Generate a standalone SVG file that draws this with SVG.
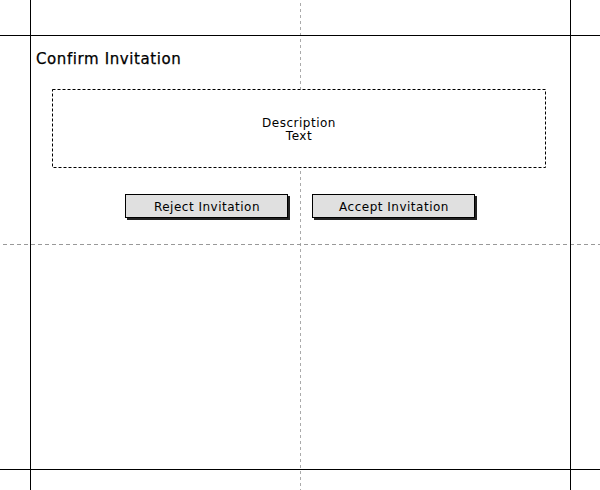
<svg xmlns="http://www.w3.org/2000/svg" width="600" height="490" viewBox="0 0 600 490">
<style>
.frame{stroke:#000;stroke-width:1;fill:none}
.guide-v{stroke:#aaa;stroke-width:1;stroke-dasharray:3,3;fill:none}
.guide-h{stroke:#999;stroke-width:1;stroke-dasharray:4,3;fill:none}
.desc{fill:#fff;stroke:#000;stroke-width:1;stroke-dasharray:3,2}
.btn{fill:#e0e0e0;stroke:#000;stroke-width:1}
.shadow{fill:#222}
.t{font-family:"DejaVu Sans",Verdana,sans-serif;font-size:12px;fill:#000;text-anchor:middle;letter-spacing:0.5px}
.title{font-family:"DejaVu Sans",Verdana,sans-serif;font-size:15px;fill:#000;letter-spacing:0.6px;stroke:#000;stroke-width:0.25}
</style>
<rect width="600" height="490" fill="#fff"/>
<g id="guides">
<line class="guide-v" x1="300.5" y1="3" x2="300.5" y2="490"/>
<line class="guide-h" x1="3" y1="244.5" x2="600" y2="244.5"/>
</g>
<g id="frame">
<line class="frame" x1="30.5" y1="0" x2="30.5" y2="490"/>
<line class="frame" x1="570.5" y1="0" x2="570.5" y2="490"/>
<line class="frame" x1="0" y1="35.5" x2="600" y2="35.5"/>
<line class="frame" x1="0" y1="469.5" x2="600" y2="469.5"/>
</g>
<g id="title">
<text class="title" x="36" y="64">Confirm Invitation</text>
</g>
<g id="description">
<rect class="desc" x="52.5" y="89.5" width="493" height="78"/>
<text class="t" x="299" y="127">Description</text>
<text class="t" x="299" y="140">Text</text>
</g>
<g id="reject">
<rect class="shadow" x="127" y="196" width="163" height="24"/>
<rect class="btn" x="125.5" y="194.5" width="162" height="23"/>
<text class="t" x="207" y="211">Reject Invitation</text>
</g>
<g id="accept">
<rect class="shadow" x="314" y="196" width="163" height="24"/>
<rect class="btn" x="312.5" y="194.5" width="162" height="23"/>
<text class="t" x="394" y="211">Accept Invitation</text>
</g>
</svg>
